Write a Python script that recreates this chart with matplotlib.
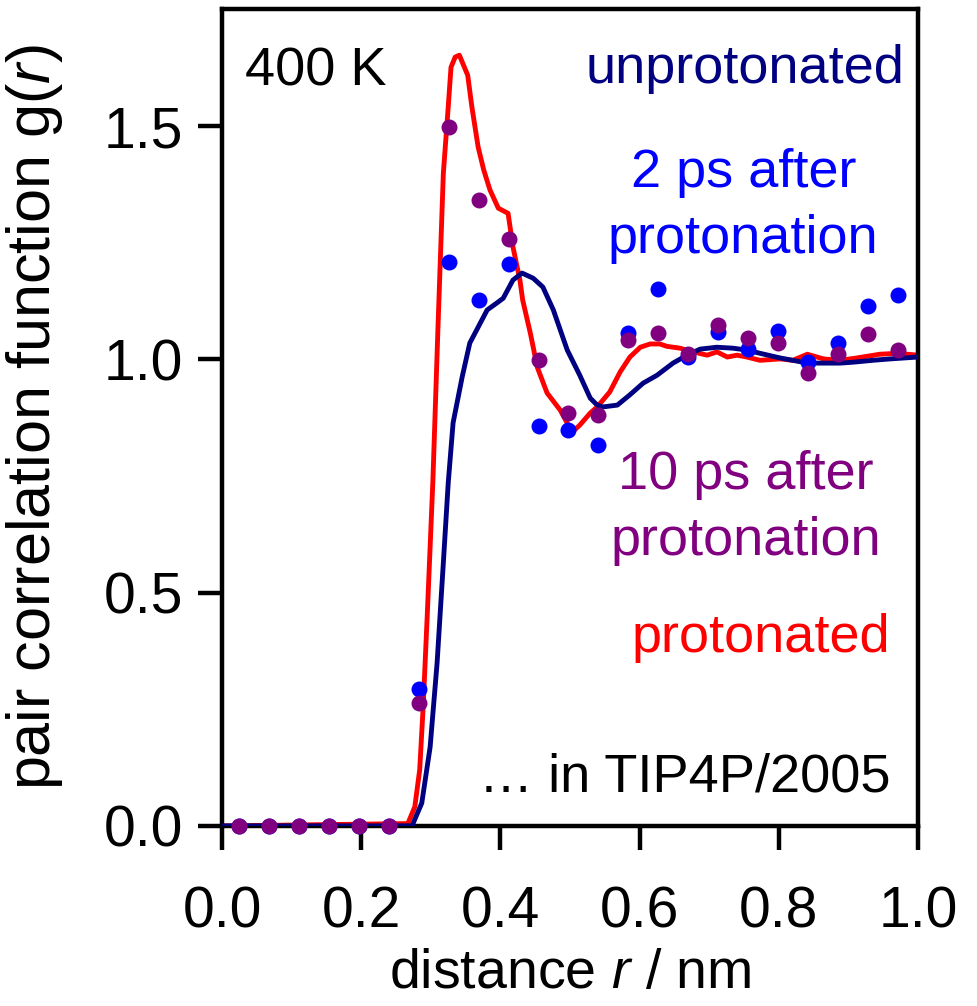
import matplotlib
matplotlib.use("Agg")
import matplotlib.pyplot as plt

plt.rcParams['font.family'] = ['Liberation Sans', 'DejaVu Sans']
plt.rcParams['mathtext.fontset'] = 'custom'
plt.rcParams['mathtext.rm'] = 'Liberation Sans'
plt.rcParams['mathtext.it'] = 'Liberation Sans:italic'

# g(r) curves, unprotonated and protonated
r_unprot = [0.000, 0.273, 0.287, 0.299, 0.309, 0.318, 0.325, 0.332, 0.345, 0.356,
            0.381, 0.395, 0.404, 0.418, 0.431, 0.447, 0.461, 0.476, 0.486, 0.496,
            0.514, 0.529, 0.539, 0.547, 0.568, 0.586, 0.605, 0.625, 0.648, 0.668,
            0.687, 0.711, 0.734, 0.754, 0.773, 0.802, 0.820, 0.841, 0.888, 0.907,
            0.935, 0.960, 1.000]
g_unprot = [0.000, 0.000, 0.049, 0.169, 0.349, 0.564, 0.735, 0.864, 0.962, 1.035,
            1.106, 1.121, 1.131, 1.170, 1.185, 1.174, 1.155, 1.106, 1.063, 1.020,
            0.966, 0.917, 0.902, 0.898, 0.902, 0.924, 0.949, 0.966, 0.992, 1.009,
            1.022, 1.026, 1.024, 1.020, 1.013, 1.003, 0.998, 0.992, 0.992, 0.994,
            0.998, 1.001, 1.005]

r_prot = [0.000, 0.267, 0.277, 0.284, 0.289, 0.295, 0.299, 0.303, 0.310, 0.313,
          0.318, 0.325, 0.329, 0.335, 0.341, 0.353, 0.359, 0.368, 0.376, 0.385,
          0.397, 0.411, 0.418, 0.428, 0.432, 0.443, 0.453, 0.467, 0.486, 0.503,
          0.514, 0.529, 0.539, 0.557, 0.572, 0.586, 0.601, 0.615, 0.629, 0.639,
          0.658, 0.677, 0.697, 0.711, 0.726, 0.740, 0.754, 0.773, 0.802, 0.820,
          0.841, 0.864, 0.888, 0.912, 0.945, 0.970, 1.000]
g_prot = [0.000, 0.005, 0.041, 0.120, 0.255, 0.456, 0.598, 0.741, 1.056, 1.185,
          1.399, 1.541, 1.626, 1.648, 1.652, 1.609, 1.541, 1.455, 1.406, 1.363,
          1.324, 1.313, 1.241, 1.170, 1.127, 1.056, 0.983, 0.928, 0.891, 0.844,
          0.859, 0.885, 0.898, 0.930, 0.973, 1.005, 1.026, 1.033, 1.033, 1.028,
          1.024, 1.016, 1.009, 1.016, 1.005, 1.009, 1.005, 0.998, 1.001, 0.998,
          1.011, 1.001, 0.998, 1.003, 1.011, 1.013, 1.009]

# binned g(r) after protonation
r_bins = [0.0244, 0.0675, 0.1105, 0.1535, 0.1966, 0.2396, 0.2826, 0.3257,
          0.3687, 0.4117, 0.4548, 0.4978, 0.5408, 0.5839, 0.6269, 0.6699,
          0.7130, 0.7560, 0.7990, 0.8421, 0.8851, 0.9281, 0.9712]
g_2ps = [0, 0, 0, 0, 0, 0, 0.293, 1.208, 1.127, 1.204, 0.857, 0.849,
         0.816, 1.056, 1.151, 1.005, 1.059, 1.022, 1.061, 0.994, 1.035,
         1.114, 1.138]
g_10ps = [0, 0, 0, 0, 0, 0, 0.264, 1.498, 1.341, 1.258, 0.998, 0.885,
          0.881, 1.041, 1.056, 1.011, 1.074, 1.046, 1.035, 0.971, 1.011,
          1.054, 1.020]

c_unprot = '#000080'
c_prot = '#ff0000'
c_2ps = '#0000ff'
c_10ps = '#800080'

fig = plt.figure(figsize=(9.78, 10.06), dpi=100)
ax = fig.add_axes([0.227, 0.179, 0.7117, 0.8116])

ax.plot(r_prot, g_prot, color=c_prot, lw=3.5, zorder=2)
ax.plot(r_unprot, g_unprot, color=c_unprot, lw=3.5, zorder=3)
ax.plot(r_bins, g_2ps, 'o', color=c_2ps, ms=11.5, mew=0, zorder=4, clip_on=False)
ax.plot(r_bins, g_10ps, 'o', color=c_10ps, ms=11.5, mew=0, zorder=5, clip_on=False)

ax.set_xlim(0, 1.0)
ax.set_ylim(0, 1.75)
ax.set_xticks([0.0, 0.2, 0.4, 0.6, 0.8, 1.0])
ax.set_yticks([0.0, 0.5, 1.0, 1.5])
ax.xaxis.set_major_formatter(matplotlib.ticker.FormatStrFormatter('%.1f'))
ax.yaxis.set_major_formatter(matplotlib.ticker.FormatStrFormatter('%.1f'))
ax.tick_params(direction='out', length=17, width=3.2, labelsize=41, color='black')
ax.tick_params(axis='x', pad=26)
ax.tick_params(axis='y', pad=11)
for s in ax.spines.values():
    s.set_linewidth(3.2)

ax.set_xlabel(r'distance $\mathit{r}$ / nm', fontsize=40, labelpad=6)
ax.set_ylabel(r'pair correlation function g($\mathit{r}$)', fontsize=44, labelpad=28)

fs = 39
ax.text(0.033, 1.588, '400 K', fontsize=fs, color='black', va='baseline')
ax.text(0.981, 1.592, 'unprotonated', fontsize=fs, color=c_unprot, ha='right', va='baseline')
ax.text(0.749, 1.370, '2 ps after', fontsize=fs, color=c_2ps, ha='center', va='baseline')
ax.text(0.749, 1.229, 'protonation', fontsize=fs, color=c_2ps, ha='center', va='baseline')
ax.text(0.752, 0.722, '10 ps after', fontsize=fs, color=c_10ps, ha='center', va='baseline')
ax.text(0.752, 0.580, 'protonation', fontsize=fs, color=c_10ps, ha='center', va='baseline')
ax.text(0.960, 0.373, 'protonated', fontsize=fs, color=c_prot, ha='right', va='baseline')
ax.text(0.960, 0.073, '\u2026 in TIP4P/2005', fontsize=fs, color='black', ha='right', va='baseline')

fig.savefig('out.png', dpi=100)
